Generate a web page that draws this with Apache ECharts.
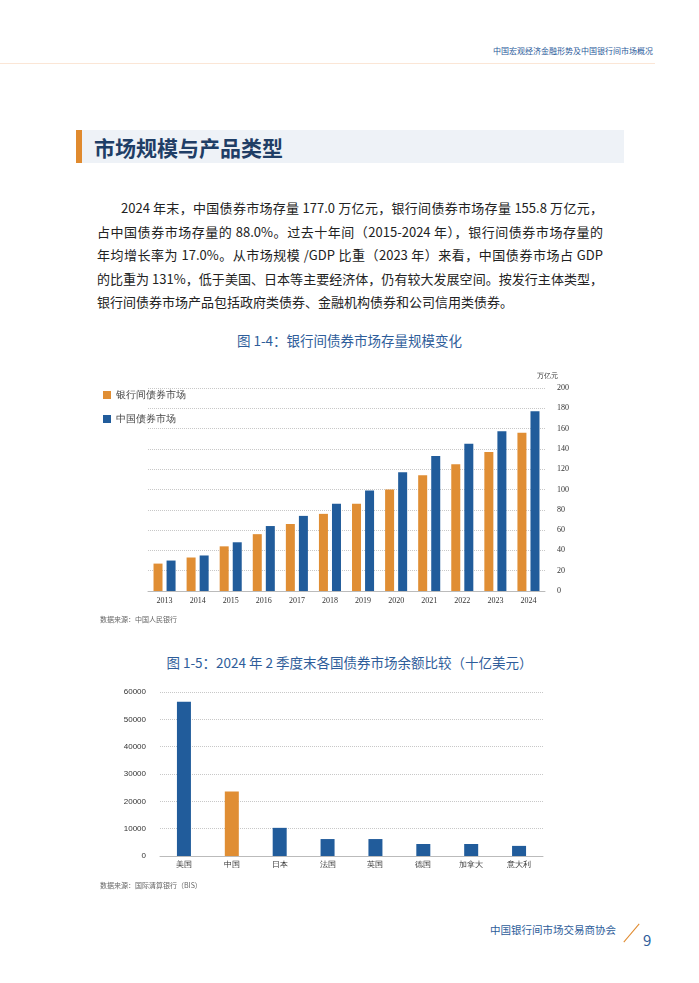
<!DOCTYPE html>
<html>
<head>
<meta charset="utf-8">
<script src="https://cdn.jsdelivr.net/npm/echarts@6/dist/echarts.min.js"></script>
<style>
body { margin:0; width:699px; height:983px; position:relative; background:#fff; font-family:"Noto Sans CJK SC", sans-serif; overflow:hidden; }
.abs { position:absolute; }
#hdr { left:493px; top:45px; font-size:8px; color:#2a5a9a; }
#hline { left:0; top:63px; width:655px; height:1px; background:#fbe6d6; }
#tbar { left:76px; top:130px; width:548px; height:33px; background:#eef2f7; }
#tbar i { position:absolute; left:0; top:0; width:6px; height:33px; background:#e08a2e; }
#tbar span { position:absolute; left:18px; top:2px; font-size:21px; font-weight:bold; color:#1f3e66; }
#para { left:97px; top:196px; width:506px; font-size:13px; line-height:23.5px; color:#222; }
#para div { white-space:nowrap; text-align:justify; text-align-last:justify; }
#para div.last { text-align-last:left; }
.cap { left:0; width:699px; text-align:center; font-size:13.5px; color:#2e5d9a; }
.src { font-size:7px; color:#666; }
#foot { left:490px; top:922px; font-size:10.5px; color:#2e5d9a; }
#slash { left:631px; top:921px; width:1px; height:24px; background:#e08a2e; transform:rotate(40deg); }
#pg { left:643px; top:929px; font-size:15px; color:#2e5d9a; }
</style>
</head>
<body>
<div class="abs" id="hdr">中国宏观经济金融形势及中国银行间市场概况</div>
<div class="abs" id="hline"></div>
<div class="abs" id="tbar"><i></i><span>市场规模与产品类型</span></div>
<div class="abs" id="para">
<div style="padding-left:24px">2024 年末，中国债券市场存量 177.0 万亿元，银行间债券市场存量 155.8 万亿元，</div>
<div>占中国债券市场存量的 88.0%。过去十年间（2015-2024 年），银行间债券市场存量的</div>
<div>年均增长率为 17.0%。从市场规模 /GDP 比重（2023 年）来看，中国债券市场占 GDP</div>
<div>的比重为 131%，低于美国、日本等主要经济体，仍有较大发展空间。按发行主体类型，</div>
<div class="last">银行间债券市场产品包括政府类债券、金融机构债券和公司信用类债券。</div>
</div>
<div class="abs cap" style="top:330px">图 1-4：银行间债券市场存量规模变化</div>
<div class="abs" id="c1" style="left:90px;top:360px;width:500px;height:270px"></div>
<div class="abs src" style="left:100px;top:614px">数据来源：中国人民银行</div>
<div class="abs cap" style="top:652px">图 1-5：2024 年 2 季度末各国债券市场余额比较（十亿美元）</div>
<div class="abs" id="c2" style="left:90px;top:680px;width:500px;height:210px"></div>
<div class="abs src" style="left:100px;top:880px">数据来源：国际清算银行（BIS）</div>
<div class="abs" id="foot">中国银行间市场交易商协会</div>
<div class="abs" id="slash"></div>
<div class="abs" id="pg">9</div>
<script type="text/javascript">
var years = ['2013','2014','2015','2016','2017','2018','2019','2020','2021','2022','2023','2024'];
var interbank = [27, 33, 44, 56, 66, 76, 86, 100, 114, 125, 137, 155.8];
var china = [30, 35, 48, 64, 74, 86, 99, 117, 133, 145, 157.5, 177];
var countries = ['美国','中国','日本','法国','英国','德国','加拿大','意大利'];
var balances = [56400, 23600, 10300, 6200, 6200, 4400, 4400, 3700];

var orange = '#e08e34', blue = '#215c9b';
var grid = { type:'dotted', color:'#c8c8c8' };

var chart1 = echarts.init(document.getElementById('c1'));
chart1.setOption({
    animation: false,
    legend: { orient:'vertical', left:8, top:25, itemWidth:8, itemHeight:8, itemGap:14,
        textStyle:{ fontSize:10, color:'#444' }, icon:'rect' },
    grid: { left:58, right:45, top:28, bottom:39 },
    xAxis: { type:'category', data:years, axisTick:{show:false},
        axisLine:{ lineStyle:{ color:'#bbb' } },
        axisLabel:{ fontSize:8, color:'#333', fontFamily:'Liberation Serif', margin:6 } },
    yAxis: { type:'value', position:'right', min:0, max:200, interval:20,
        name:'万亿元', nameGap:8, nameTextStyle:{ fontSize:7, color:'#333', align:'left', padding:[0,0,0,-8] },
        splitLine:{ lineStyle:grid },
        axisLabel:{ fontSize:8, color:'#333', fontFamily:'Liberation Serif', margin:12 } },
    series: [
        { name:'银行间债券市场', type:'bar', data:interbank, barWidth:9, barGap:'45%', itemStyle:{ color:orange } },
        { name:'中国债券市场', type:'bar', data:china, barWidth:9, itemStyle:{ color:blue } }
    ]
});

var chart2 = echarts.init(document.getElementById('c2'));
chart2.setOption({
    animation: false,
    grid: { left:70, right:47, top:12, bottom:34 },
    xAxis: { type:'category', data:countries, axisTick:{show:false},
        axisLine:{ lineStyle:{ color:'#bbb' } },
        axisLabel:{ fontSize:8, color:'#333', margin:5 } },
    yAxis: { type:'value', min:0, max:60000, interval:10000,
        splitLine:{ lineStyle:grid },
        axisLabel:{ fontSize:8, color:'#333', fontFamily:'Liberation Sans', margin:14,
            formatter:function (v) { return String(v); } } },
    series: [
        { type:'bar', barWidth:14,
          data: balances.map(function (v, i) { return countries[i] === '中国' ? { value:v, itemStyle:{ color:orange } } : v; }),
          itemStyle:{ color:blue } }
    ]
});
</script>
</body>
</html>
